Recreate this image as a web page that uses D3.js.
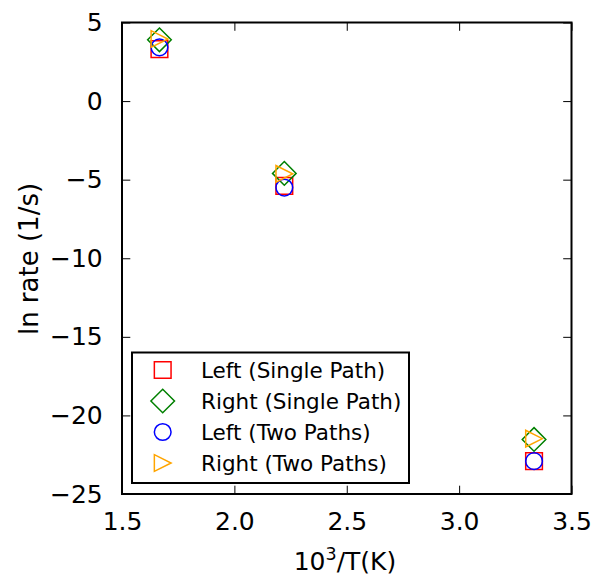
<!DOCTYPE html>
<html>
<head>
<meta charset="utf-8">
<script src="https://cdn.jsdelivr.net/npm/d3@7"></script>
<style>
  html, body { margin: 0; padding: 0; background: #fff; }
  svg { display: block; font-family: "DejaVu Sans", sans-serif; }
</style>
</head>
<body>
<svg id="chart" width="595" height="575"></svg>
<script>
// Inverse temperature (10^3 / T) for 600 K, 450 K and 300 K
const invT = [1000 / 600, 1000 / 450, 1000 / 300];

// ln(rate) for each model variant
const leftSingle  = [3.31, -5.40, -22.91];
const rightSingle = [3.90, -4.60, -21.53];
const leftTwo     = [3.42, -5.50, -22.91];
const rightTwo    = [3.95, -4.63, -21.48];

const seriesNames = ["Left (Single Path)", "Right (Single Path)", "Left (Two Paths)", "Right (Two Paths)"];
const seriesValues = [leftSingle, rightSingle, leftTwo, rightTwo];
const seriesColors = ["#ff0000", "#008000", "#0000ff", "#ffa500"];
const seriesShapes = ["square", "diamond", "circle", "triangleRight"];

const xTicks = [1.5, 2.0, 2.5, 3.0, 3.5];
const yTicks = [5, 0, -5, -10, -15, -20, -25];

const svg = d3.select("#chart");
const plot = { left: 122, right: 571.5, top: 22.5, bottom: 494 };

const x = d3.scaleLinear().domain([1.5, 3.5]).range([plot.left, plot.right]);
const y = d3.scaleLinear().domain([-25, 5]).range([plot.bottom, plot.top]);

const MS = 16.7;      // marker size in px
const tickLen = 8.3;
const fontSize = 25;

// Marker path generator, centred on (0,0)
function markerPath(shape, s) {
  const h = s / 2;
  switch (shape) {
    case "square":
      return `M${-h},${-h}H${h}V${h}H${-h}Z`;
    case "diamond": {
      const d = s * Math.SQRT2 / 2;
      return `M0,${-d}L${d},0L0,${d}L${-d},0Z`;
    }
    case "circle":
      return `M${h},0A${h},${h} 0 1,1 ${-h},0A${h},${h} 0 1,1 ${h},0Z`;
    case "triangleRight":
      return `M${h},0L${-h},${h}L${-h},${-h}Z`;
  }
}

// Data markers
seriesValues.forEach((vals, i) => {
  svg.append("g")
    .selectAll("path")
    .data(vals.map((v, j) => [invT[j], v]))
    .join("path")
    .attr("transform", d => `translate(${x(d[0])},${y(d[1])})`)
    .attr("d", markerPath(seriesShapes[i], MS))
    .attr("fill", "none")
    .attr("stroke", seriesColors[i])
    .attr("stroke-width", 1.5);
});

// Axes: inward ticks on all four sides
const axisBottom = d3.axisBottom(x).tickValues(xTicks).tickFormat(d3.format(".1f"))
  .tickSizeInner(-tickLen).tickSizeOuter(0).tickPadding(tickLen + 10);
const axisTop = d3.axisTop(x).tickValues(xTicks).tickFormat("")
  .tickSizeInner(-tickLen).tickSizeOuter(0);
const axisLeft = d3.axisLeft(y).tickValues(yTicks).tickFormat(d => d3.format("d")(d).replace("-", "\u2212"))
  .tickSizeInner(-tickLen).tickSizeOuter(0).tickPadding(tickLen + 11);
const axisRight = d3.axisRight(y).tickValues(yTicks).tickFormat("")
  .tickSizeInner(-tickLen).tickSizeOuter(0);

function styleAxis(g) {
  g.select(".domain").remove();
  g.selectAll(".tick line").attr("stroke", "#000").attr("stroke-width", 1);
  g.selectAll(".tick text")
    .attr("fill", "#000")
    .style("font-size", fontSize + "px")
    .style("font-family", "DejaVu Sans, sans-serif");
}

svg.append("g").attr("transform", `translate(0,${plot.bottom})`).call(axisBottom).call(styleAxis)
  .selectAll(".tick text").attr("dy", "0.71em");
svg.append("g").attr("transform", `translate(0,${plot.top})`).call(axisTop).call(styleAxis);
svg.append("g").attr("transform", `translate(${plot.left},0)`).call(axisLeft).call(styleAxis);
svg.append("g").attr("transform", `translate(${plot.right},0)`).call(axisRight).call(styleAxis);

// Frame
svg.append("rect")
  .attr("x", plot.left).attr("y", plot.top)
  .attr("width", plot.right - plot.left).attr("height", plot.bottom - plot.top)
  .attr("fill", "none").attr("stroke", "#000").attr("stroke-width", 2);

// Axis labels
const xl = svg.append("text")
  .attr("x", 345).attr("y", 570)
  .attr("text-anchor", "middle")
  .style("font-size", fontSize + "px");
xl.append("tspan").text("10");
xl.append("tspan").attr("dy", -10).style("font-size", "17.5px").text("3");
xl.append("tspan").attr("dy", 10).text("/T(K)");

svg.append("text")
  .attr("transform", "translate(38,259) rotate(-90)")
  .attr("text-anchor", "middle")
  .style("font-size", "26px")
  .text("ln rate (1/s)");

// Legend
const legend = svg.append("g");
legend.append("rect")
  .attr("x", 132).attr("y", 352.5).attr("width", 277).attr("height", 130.5)
  .attr("fill", "#fff").attr("stroke", "#000").attr("stroke-width", 2);

seriesNames.forEach((name, i) => {
  const cy = 370 + i * 31;
  legend.append("path")
    .attr("transform", `translate(162.7,${cy})`)
    .attr("d", markerPath(seriesShapes[i], MS))
    .attr("fill", "none")
    .attr("stroke", seriesColors[i])
    .attr("stroke-width", 1.5);
  legend.append("text")
    .attr("x", 201).attr("y", cy + 7.5)
    .style("font-size", "21.5px")
    .text(name);
});
</script>
</body>
</html>
